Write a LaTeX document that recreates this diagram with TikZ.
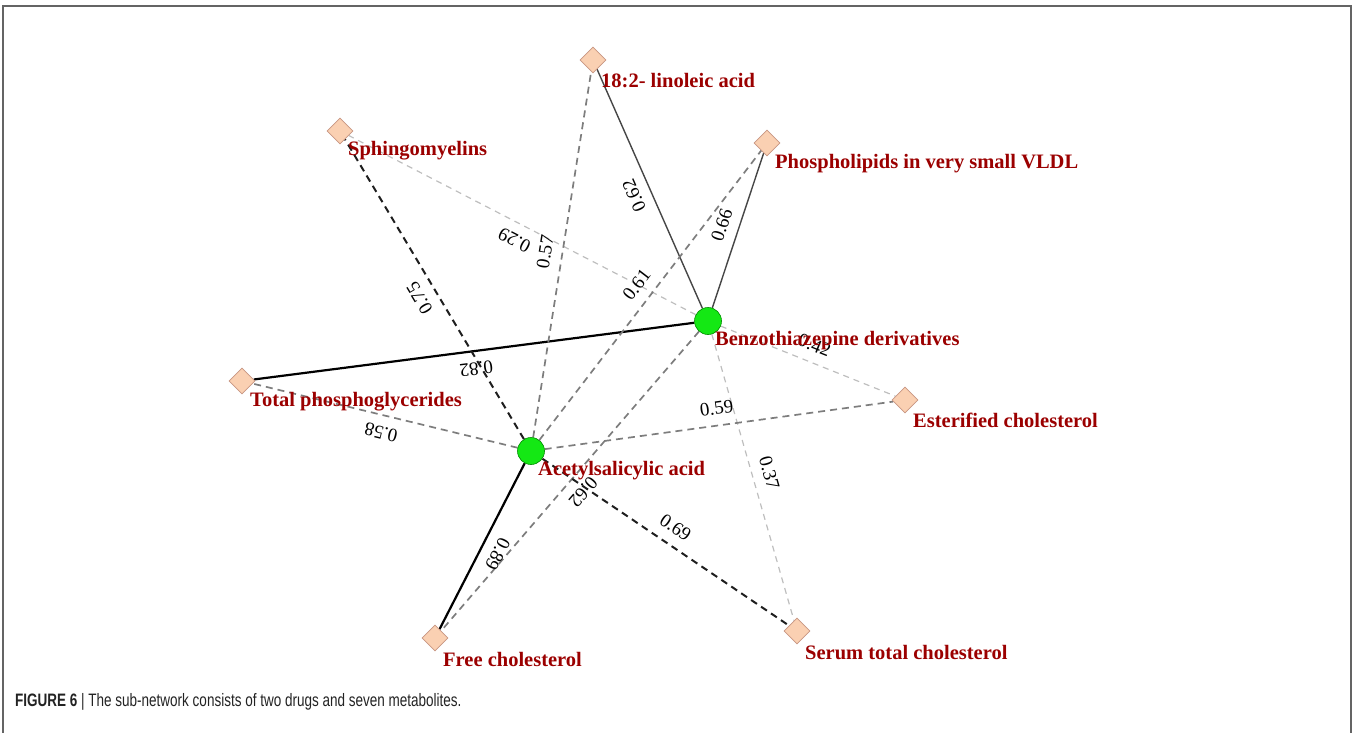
\documentclass[tikz,border=0pt]{standalone}
\usepackage{fontspec}
\setmainfont{Liberation Serif}
\newfontfamily\capfont[FakeStretch=0.75]{Liberation Sans}
\usetikzlibrary{shapes.geometric,backgrounds}
\definecolor{lblred}{RGB}{155,0,0}
\definecolor{peach}{RGB}{250,208,178}
\definecolor{peachline}{RGB}{200,150,130}
\definecolor{drug}{RGB}{20,232,20}
\definecolor{framegray}{RGB}{100,100,100}
\tikzset{
  met/.style={diamond, aspect=1, minimum width=26pt, minimum height=26pt, inner sep=0pt, fill=peach, draw=peachline, line width=0.8pt},
  drugnode/.style={circle, minimum size=27pt, inner sep=0pt, fill=drug, draw=green!55!black, line width=0.6pt},
  lab/.style={anchor=west, inner sep=0pt, text=lblred, font=\bfseries\fontsize{20.5}{20.5}\selectfont},
  elab/.style={midway, sloped, allow upside down, above=9pt, inner sep=1pt, font=\fontsize{19}{19}\selectfont},
  solidthin/.style={draw={rgb,255:red,70;green,70;blue,70}, line width=1.4pt},
  solidthick/.style={draw=black, line width=2.2pt},
  dashdark/.style={draw={rgb,255:red,30;green,30;blue,30}, line width=2pt, dash pattern=on 7pt off 5pt},
  dashmid/.style={draw={rgb,255:red,125;green,125;blue,125}, line width=1.7pt, dash pattern=on 7pt off 5pt},
  dashlight/.style={draw={rgb,255:red,190;green,190;blue,190}, line width=1.2pt, dash pattern=on 6pt off 5pt}
}
\begin{document}
\begin{tikzpicture}[x=1pt,y=-1pt]
\useasboundingbox (0,0) rectangle (1358,733);
\draw[framegray, line width=2pt] (3,733) -- (3,6) -- (1351,6) -- (1351,733);

% nodes
\node[drugnode] (B) at (708,321) {};
\node[drugnode] (A) at (531,451) {};
\node[met] (L) at (593,60) {};
\node[met] (S) at (340,131) {};
\node[met] (P) at (767,143) {};
\node[met] (T) at (242,381) {};
\node[met] (E) at (905,400) {};
\node[met] (F) at (435,638) {};
\node[met] (R) at (797,631) {};

% edges
\begin{scope}[on background layer]
\draw[solidthin] (B) -- node[elab] (eBL) {0.62} (L);
\draw[solidthin] (B) -- node[elab] (eBP) {0.66} (P);
\draw[solidthick] (B) -- node[elab] (eBT) {0.82} (T);
\draw[dashlight] (B) -- node[elab] (eBS) {0.29} (S);
\draw[dashlight] (B) -- node[elab] (eBE) {0.42} (E);
\draw[dashlight] (B) -- node[elab] (eBR) {0.37} (R);
\draw[dashmid] (B) -- node[elab] (eBF) {0.62} (F);
\draw[dashmid] (A) -- node[elab] (eAL) {0.57} (L);
\draw[dashdark] (A) -- node[elab] (eAS) {0.75} (S);
\draw[dashmid] (A) -- node[elab] (eAP) {0.61} (P);
\draw[dashmid] (A) -- node[elab] (eAT) {0.58} (T);
\draw[dashmid] (A) -- node[elab] (eAE) {0.59} (E);
\draw[dashdark] (A) -- node[elab] (eAR) {0.69} (R);
\draw[solidthick] (A) -- node[elab] (eAF) {0.89} (F);
\end{scope}

% labels
\node[lab] (Bt) at ([shift={(7,20)}]B.center) {Benzothiazepine derivatives};
\node[lab] (At) at ([shift={(7,20)}]A.center) {Acetylsalicylic acid};
\node[lab] (Lt) at ([shift={(8,21)}]L.center) {18:2- linoleic acid};
\node[lab] (St) at ([shift={(8,20)}]S.center) {Sphingomyelins};
\node[lab] (Pt) at ([shift={(8,21)}]P.center) {Phospholipids in very small VLDL};
\node[lab] (Tt) at ([shift={(8,21)}]T.center) {Total phosphoglycerides};
\node[lab] (Et) at ([shift={(8,20)}]E.center) {Esterified cholesterol};
\node[lab] (Ft) at ([shift={(8,21)}]F.center) {Free cholesterol};
\node[lab] (Rt) at ([shift={(8,22)}]R.center) {Serum total cholesterol};

% caption
\node[anchor=west, inner sep=0pt, font=\capfont\fontsize{18}{18}\selectfont, text={rgb,255:red,35;green,35;blue,35}] (cap) at (15,702) {\textbf{FIGURE 6} | The sub-network consists of two drugs and seven metabolites.};
\end{tikzpicture}
\end{document}
